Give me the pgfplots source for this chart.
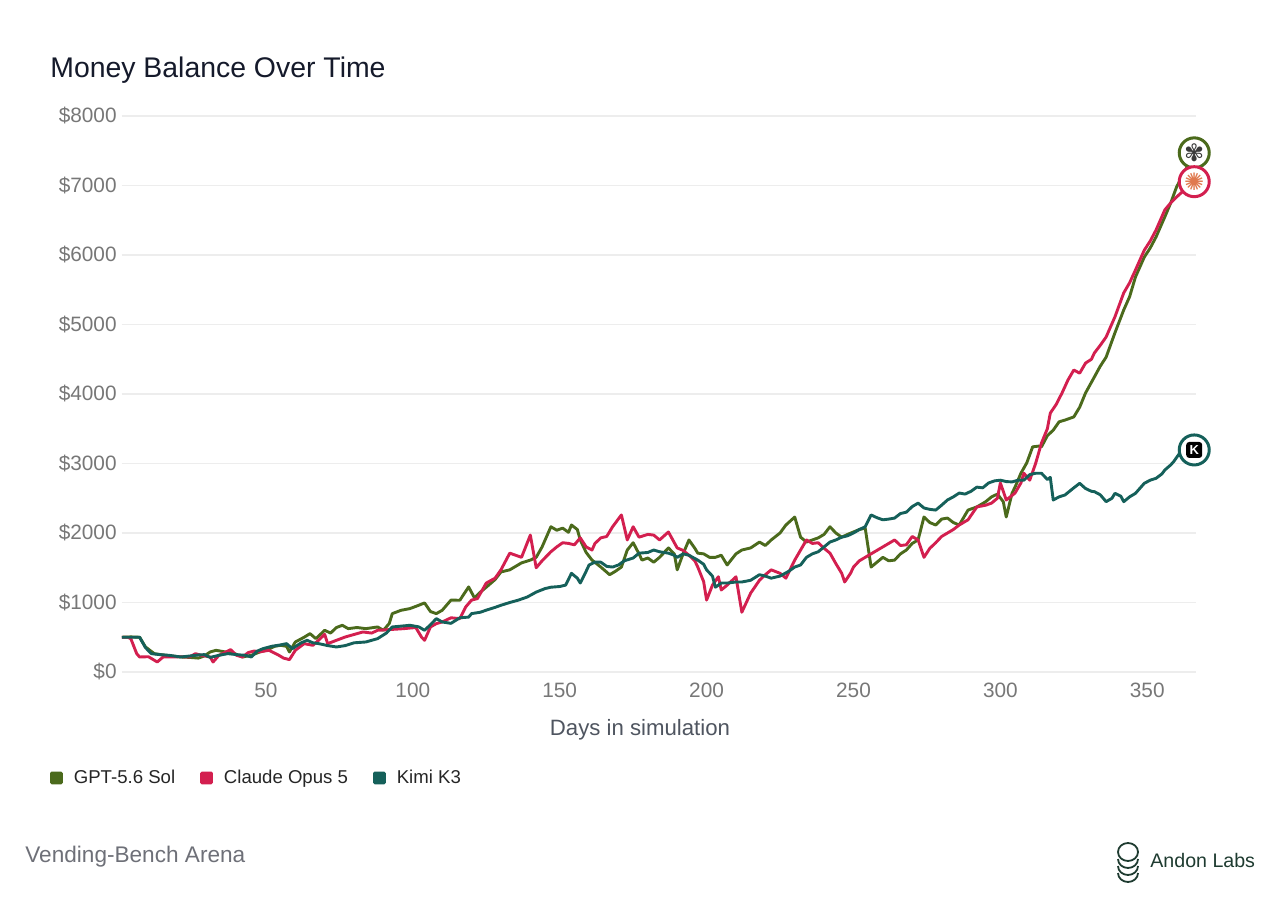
\documentclass[border=0pt]{standalone}
\usepackage{fontspec}
\setmainfont{Liberation Sans}
\newfontfamily\symfont{DejaVu Sans}
\usepackage{pgfplots}
\pgfplotsset{compat=1.18}
\usepackage{pgfplotstable}
\definecolor{gptc}{HTML}{4B6A1C}
\definecolor{claudec}{HTML}{D31F4F}
\definecolor{kimic}{HTML}{15605A}
\definecolor{gridc}{HTML}{EDEDED}
\definecolor{tickc}{HTML}{777777}
\definecolor{titlec}{HTML}{151A2B}
\definecolor{labelc}{HTML}{4F5560}
\definecolor{footc}{HTML}{6E7078}
\definecolor{andonc}{HTML}{1E3B30}
\definecolor{claudeicon}{HTML}{E07A4F}
\definecolor{iconc}{HTML}{3A3A3A}

\pgfplotstableread{
day v
1 500
4 505
7 500
9 360
12 264
15 245
18 230
21 216
24 210
27 200
29 230
31 288
33 312
36 290
39 270
42 216
45 240
48 290
51 330
53 370
55 384
57 370
58 288
60 432
63 500
65 552
67 480
70 600
72 560
74 640
76 672
78 624
81 640
84 624
88 648
90 600
92 700
93 840
96 888
99 912
102 960
104 994
106 870
108 840
110 888
113 1035
116 1032
119 1224
121 1065
123 1150
125 1220
128 1330
130 1440
133 1470
135 1520
137 1570
140 1610
142 1650
144 1800
147 2090
149 2040
151 2070
153 2010
154 2115
156 2050
157 1900
159 1720
161 1610
164 1510
167 1400
169 1450
171 1510
173 1755
175 1860
177 1700
178 1610
180 1640
182 1580
184 1650
187 1785
189 1700
190 1470
192 1700
194 1900
196 1780
197 1710
199 1700
201 1650
203 1650
205 1680
207 1540
210 1700
212 1755
215 1785
218 1870
220 1820
222 1900
225 2000
227 2115
230 2230
232 1940
234 1870
236 1900
238 1930
240 1980
242 2090
244 2000
246 1940
248 1980
250 2015
252 2050
254 2070
256 1510
258 1580
260 1650
262 1600
264 1610
266 1700
268 1755
270 1850
272 1900
274 2230
276 2150
278 2115
280 2200
282 2215
284 2150
286 2115
289 2330
292 2375
295 2450
297 2520
299 2560
301 2450
302 2230
304 2575
305 2660
307 2860
309 3010
311 3240
313 3250
314 3240
316 3400
318 3480
320 3600
322 3625
325 3670
327 3810
329 4015
332 4245
334 4400
336 4530
339 4880
342 5210
344 5400
346 5685
349 5970
351 6100
353 6260
356 6550
358 6750
360 6980
363 7220
366 7470
}\gpt

\pgfplotstableread{
day v
1 500
3 500
4 480
6 264
7 216
10 220
13 144
15 216
18 216
21 220
24 216
26 264
28 240
31 216
32 144
34 240
36 280
38 322
40 240
42 216
44 280
46 302
48 290
51 312
54 250
56 200
58 178
60 312
63 408
66 384
68 460
70 542
71 408
74 456
77 504
80 540
83 576
86 560
88 600
92 610
97 624
101 640
103 500
104 456
106 648
108 696
110 720
113 780
116 768
118 936
120 1035
122 1056
125 1280
128 1350
130 1470
133 1710
135 1680
137 1650
140 1970
142 1500
144 1600
147 1730
149 1800
151 1860
153 1850
155 1830
157 1930
159 1800
161 1755
162 1850
164 1930
166 1950
168 2090
171 2260
173 1900
175 2090
177 1940
180 1980
182 1970
184 1900
187 2015
190 1785
192 1750
194 1680
196 1600
197 1510
199 1300
200 1035
202 1250
204 1370
205 1180
207 1250
210 1370
212 860
215 1135
218 1320
220 1400
222 1470
225 1420
227 1350
230 1610
232 1755
234 1900
236 1850
238 1860
240 1780
242 1710
244 1560
246 1420
247 1295
249 1420
250 1510
252 1600
254 1650
256 1700
258 1750
260 1800
262 1850
264 1900
266 1820
268 1830
270 1950
272 1900
274 1650
276 1780
278 1860
280 1950
282 2000
284 2050
286 2115
289 2190
292 2375
295 2400
297 2430
299 2500
300 2720
301 2600
302 2475
305 2575
307 2720
308 2860
310 2760
312 3000
314 3295
316 3500
317 3725
319 3850
321 4015
323 4200
325 4345
327 4300
329 4445
331 4500
332 4590
334 4700
336 4820
339 5110
342 5455
344 5600
346 5785
349 6070
351 6200
353 6360
356 6650
358 6750
360 6835
363 6950
366 7055
}\claude

\pgfplotstableread{
day v
1 500
4 500
7 500
9 350
11 264
14 250
17 240
21 216
24 230
27 245
29 250
31 210
34 240
37 264
40 250
43 240
45 216
47 300
49 336
52 370
55 390
57 408
59 336
62 420
64 456
66 420
68 408
71 380
74 360
77 380
80 420
84 432
88 480
91 560
93 648
96 660
99 672
102 650
104 600
106 680
108 768
110 720
113 700
116 780
119 790
120 840
123 860
125 890
128 930
130 960
133 1000
136 1035
139 1080
142 1150
145 1200
147 1220
150 1230
152 1250
154 1420
156 1350
157 1280
159 1450
160 1540
162 1580
164 1580
166 1520
168 1510
170 1540
172 1600
175 1640
177 1710
180 1720
182 1755
184 1730
187 1710
189 1680
190 1650
192 1700
194 1680
197 1610
199 1550
200 1470
202 1380
203 1220
205 1280
207 1280
210 1295
212 1295
215 1320
218 1400
220 1380
222 1350
225 1380
228 1450
230 1510
232 1540
234 1650
236 1700
238 1730
240 1800
242 1870
244 1900
246 1940
248 1960
250 2000
252 2050
254 2090
256 2260
258 2220
260 2190
262 2200
264 2215
266 2280
268 2300
270 2380
272 2430
274 2360
276 2340
278 2330
280 2400
282 2475
284 2520
286 2575
288 2560
290 2600
292 2660
294 2650
296 2720
298 2750
300 2760
302 2740
304 2735
306 2760
308 2760
310 2840
312 2860
314 2860
316 2770
317 2800
318 2475
320 2520
322 2547
325 2650
327 2715
329 2640
331 2600
332 2595
334 2550
336 2451
338 2500
339 2571
341 2530
342 2451
344 2520
346 2571
349 2715
351 2760
353 2787
355 2850
356 2907
358 2980
359 3027
361 3147
363 3170
366 3195
}\kimi

\begin{document}
\begin{tikzpicture}
\useasboundingbox[fill=white] (0,0) rectangle (640pt,452.5pt);
\node[anchor=base west, inner sep=0pt, text=titlec, font=\fontsize{14.2}{17}\selectfont] at (25pt,413.5pt) {Money Balance Over Time};
\begin{axis}[
  at={(61pt,116.5pt)}, anchor=south west,
  scale only axis, width=537pt, height=278pt,
  xmin=1, xmax=366.6, ymin=0, ymax=8000,
  xtick={50,100,...,350}, ytick={0,1000,...,8000},
  /pgf/number format/assume math mode=true,
  yticklabel={\$\pgfmathprintnumber[fixed,precision=0,1000 sep={}]{\tick}},
  xticklabel style={anchor=north, inner sep=0pt, yshift=-5.5pt},
  yticklabel style={anchor=east, inner sep=0pt, xshift=-2.5pt},
  tick label style={font=\fontsize{10.4}{12}\selectfont, text=tickc},
  axis line style={draw=none},
  major tick length=0pt,
  ymajorgrids, grid style={draw=gridc, line width=0.6pt},
  clip=false,
  legend columns=-1,
  legend image code/.code={\fill[#1, draw=none, rounded corners=0.8pt] (0pt,-3.2pt) rectangle (6.4pt,3.2pt);},
  legend style={at={(-0.067,-0.1906)}, anchor=west, draw=none, fill=none,
    inner sep=0pt, outer sep=0pt,
    font=\fontsize{9.3}{11}\selectfont, text=black!85,
    /tikz/every odd column/.append style={column sep=3.5pt},
    /tikz/every even column/.append style={column sep=10.5pt},
    nodes={inner sep=2pt}},
]
\addplot[gptc, line width=1.45pt, line join=round] table[x=day,y=v]{\gpt};
\addlegendentry{GPT-5.6 Sol}
\addplot[claudec, line width=1.45pt, line join=round] table[x=day,y=v]{\claude};
\addlegendentry{Claude Opus 5}
\addplot[kimic, line width=1.45pt, line join=round] table[x=day,y=v]{\kimi};
\addlegendentry{Kimi K3}

\addplot[forget plot, only marks, mark=*, mark size=7.5pt,
  mark options={draw=gptc, fill=white, line width=1.5pt},
  nodes near coords={\symfont\textcolor{iconc}{✾}},
  every node near coord/.style={anchor=center, inner sep=0pt, font=\fontsize{12}{12}\selectfont}]
  coordinates {(366,7470)};
\addplot[forget plot, only marks, mark=*, mark size=7.5pt,
  mark options={draw=claudec, fill=white, line width=1.5pt},
  nodes near coords={\symfont\textcolor{claudeicon}{✺}},
  every node near coord/.style={anchor=center, inner sep=0pt, font=\fontsize{12}{12}\selectfont}]
  coordinates {(366,7055)};
\addplot[forget plot, only marks, mark=*, mark size=7.5pt,
  mark options={draw=kimic, fill=white, line width=1.5pt},
  nodes near coords={\textcolor{white}{\bfseries K}},
  every node near coord/.style={anchor=center, fill=black, rounded corners=1.5pt, inner sep=0pt, minimum size=8pt, font=\fontsize{6.5}{6.5}\selectfont}]
  coordinates {(366,3195)};
\end{axis}
\node[anchor=center, text=labelc, font=\fontsize{11.1}{13}\selectfont] at (320pt,87.5pt) {Days in simulation};
\node[anchor=west, inner sep=0pt, text=footc, font=\fontsize{11.3}{13}\selectfont] at (12.5pt,24pt) {Vending-Bench Arena};
\draw[andonc, line width=0.9pt] (564pt,26.5pt) ellipse (5pt and 4.5pt);
\draw[andonc, line width=0.9pt] (559pt,23pt) arc[start angle=180, end angle=360, x radius=5pt, y radius=4.5pt];
\draw[andonc, line width=0.9pt] (559pt,19.5pt) arc[start angle=180, end angle=360, x radius=5pt, y radius=4.5pt];
\draw[andonc, line width=0.9pt] (559pt,16pt) arc[start angle=180, end angle=360, x radius=5pt, y radius=4.5pt];
\node[anchor=west, inner sep=0pt, text=andonc, font=\fontsize{9.8}{12}\selectfont] at (575pt,22.5pt) {Andon Labs};
\end{tikzpicture}
\end{document}
